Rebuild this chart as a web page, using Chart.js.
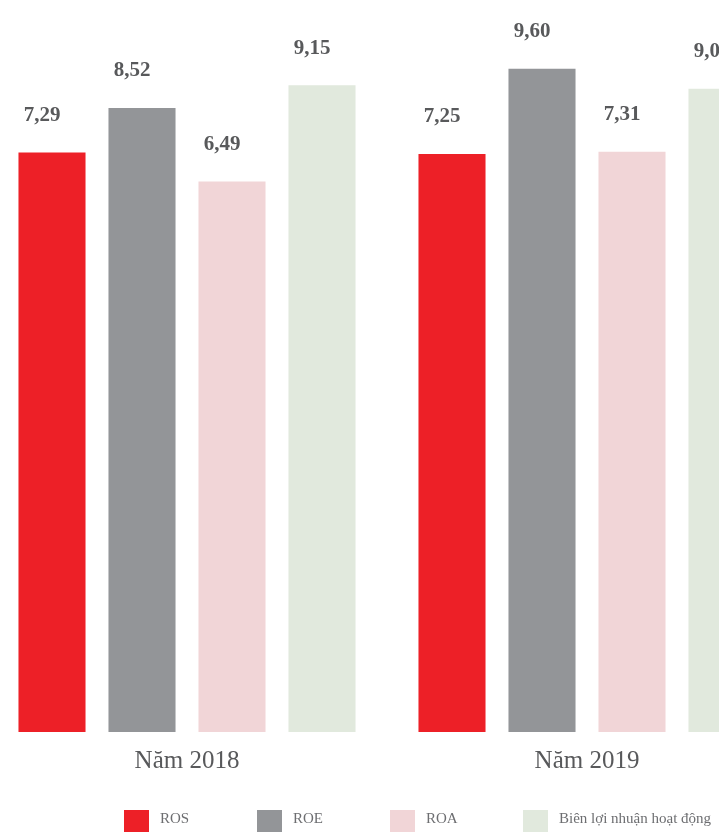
<!DOCTYPE html>
<html>
<head>
<meta charset="utf-8">
<script src="https://cdn.jsdelivr.net/npm/chart.js@4"></script>
<style>
    html, body { margin: 0; padding: 0; background: #fff; }
    body { width: 719px; height: 832px; position: relative; overflow: hidden; }
    #wrap { position: absolute; left: -13px; top: 0; width: 800px; height: 832px; }
    #legend { position: absolute; left: 124px; top: 810px; display: flex; }
    .item { width: 133px; display: flex; align-items: flex-start; white-space: nowrap; }
    .box { width: 25px; height: 23px; margin-right: 11px; flex: none; }
    .txt { font: 15px "Liberation Serif", serif; color: #6d6e71; line-height: 16px; }
</style>
</head>
<body>
<div id="wrap"><canvas id="ratioChart"></canvas></div>
<div id="legend"></div>
<script>
document.addEventListener('DOMContentLoaded', (event) => {
    var years = ["Năm 2018", "Năm 2019"];
    var seriesNames = ["ROS", "ROE", "ROA", "Biên lợi nhuận hoạt động"];
    var ros = [7.29, 7.25];
    var roe = [8.52, 9.60];
    var roa = [6.49, 7.31];
    var bien = [9.15, 9.05];
    var seriesColors = ["#ed2027", "#939598", "#f1d5d7", "#e1e9dd"];

    var axisMin = -8.7;
    var axisMax = 11.5;

    var allValues = [ros, roe, roa, bien];
    var datasets = allValues.map(function (vals, i) {
        return {
            label: seriesNames[i],
            data: vals,
            backgroundColor: seriesColors[i],
            base: axisMin,
            categoryPercentage: 0.9,
            barPercentage: 0.745
        };
    });

    // value labels above every bar, comma as decimal mark
    var valueLabels = {
        id: 'valueLabels',
        afterDatasetsDraw: function (chart) {
            var ctx = chart.ctx;
            ctx.save();
            ctx.font = 'bold 21px "Liberation Serif", serif';
            ctx.fillStyle = '#58595b';
            ctx.textAlign = 'center';
            ctx.textBaseline = 'middle';
            chart.data.datasets.forEach(function (ds, i) {
                chart.getDatasetMeta(i).data.forEach(function (bar, j) {
                    var txt = ds.data[j].toFixed(2).replace('.', ',');
                    ctx.fillText(txt, bar.x - 10, bar.y - 37);
                });
            });
            ctx.restore();
        }
    };

    new Chart("ratioChart", {
        type: "bar",
        data: {
            labels: years,
            datasets: datasets
        },
        options: {
            responsive: true,
            maintainAspectRatio: false,
            animation: false,
            layout: { padding: { top: 0, bottom: 42, left: 0, right: 0 } },
            plugins: {
                legend: { display: false },
                tooltip: { enabled: false }
            },
            scales: {
                x: {
                    grid: { display: false, drawTicks: false },
                    border: { display: false },
                    ticks: {
                        padding: 14,
                        color: '#58595b',
                        font: { family: '"Liberation Serif", serif', size: 25 }
                    }
                },
                y: {
                    display: false,
                    min: axisMin,
                    max: axisMax
                }
            }
        },
        plugins: [valueLabels]
    });

    // legend row
    var legend = document.getElementById('legend');
    seriesNames.forEach(function (name, i) {
        var item = document.createElement('div');
        item.className = 'item';
        var box = document.createElement('div');
        box.className = 'box';
        box.style.background = seriesColors[i];
        var txt = document.createElement('div');
        txt.className = 'txt';
        txt.textContent = name;
        item.appendChild(box);
        item.appendChild(txt);
        legend.appendChild(item);
    });
});
</script>
</body>
</html>
